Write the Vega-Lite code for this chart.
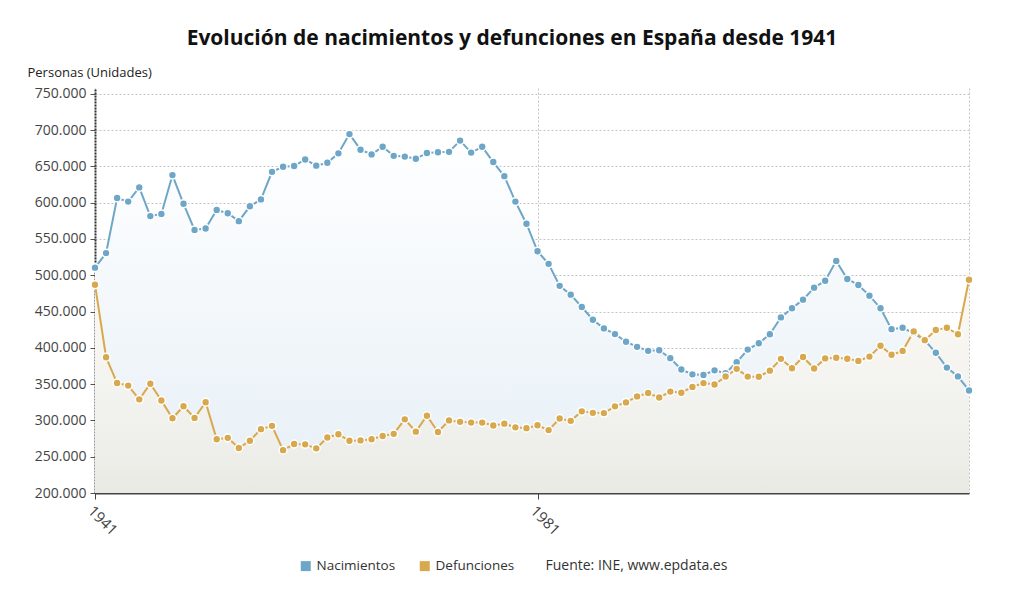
{
  "$schema": "https://vega.github.io/schema/vega-lite/v6.json",
  "description": "Evolución de nacimientos y defunciones en España desde 1941",
  "autosize": "none",
  "width": 874,
  "height": 405,
  "padding": {"left": 95, "top": 88, "right": 55, "bottom": 108},
  "title": {
    "text": "Evolución de nacimientos y defunciones en España desde 1941",
    "fontSize": 21,
    "fontWeight": "bold",
    "color": "#111111",
    "anchor": "middle",
    "dx": -20,
    "offset": 17
  },
  "data": {
    "values": [
      {"a": 1941, "s": "Nacimientos", "v": 510500},
      {"a": 1942, "s": "Nacimientos", "v": 530500},
      {"a": 1943, "s": "Nacimientos", "v": 606500},
      {"a": 1944, "s": "Nacimientos", "v": 601500},
      {"a": 1945, "s": "Nacimientos", "v": 621000},
      {"a": 1946, "s": "Nacimientos", "v": 581500},
      {"a": 1947, "s": "Nacimientos", "v": 584500},
      {"a": 1948, "s": "Nacimientos", "v": 638000},
      {"a": 1949, "s": "Nacimientos", "v": 598500},
      {"a": 1950, "s": "Nacimientos", "v": 562500},
      {"a": 1951, "s": "Nacimientos", "v": 564500},
      {"a": 1952, "s": "Nacimientos", "v": 590000},
      {"a": 1953, "s": "Nacimientos", "v": 585500},
      {"a": 1954, "s": "Nacimientos", "v": 574500},
      {"a": 1955, "s": "Nacimientos", "v": 595000},
      {"a": 1956, "s": "Nacimientos", "v": 604500},
      {"a": 1957, "s": "Nacimientos", "v": 642500},
      {"a": 1958, "s": "Nacimientos", "v": 649500},
      {"a": 1959, "s": "Nacimientos", "v": 650500},
      {"a": 1960, "s": "Nacimientos", "v": 659500},
      {"a": 1961, "s": "Nacimientos", "v": 651000},
      {"a": 1962, "s": "Nacimientos", "v": 655000},
      {"a": 1963, "s": "Nacimientos", "v": 668000},
      {"a": 1964, "s": "Nacimientos", "v": 694500},
      {"a": 1965, "s": "Nacimientos", "v": 673000},
      {"a": 1966, "s": "Nacimientos", "v": 666500},
      {"a": 1967, "s": "Nacimientos", "v": 677000},
      {"a": 1968, "s": "Nacimientos", "v": 664500},
      {"a": 1969, "s": "Nacimientos", "v": 663500},
      {"a": 1970, "s": "Nacimientos", "v": 660500},
      {"a": 1971, "s": "Nacimientos", "v": 668500},
      {"a": 1972, "s": "Nacimientos", "v": 669500},
      {"a": 1973, "s": "Nacimientos", "v": 670000},
      {"a": 1974, "s": "Nacimientos", "v": 685500},
      {"a": 1975, "s": "Nacimientos", "v": 669000},
      {"a": 1976, "s": "Nacimientos", "v": 677000},
      {"a": 1977, "s": "Nacimientos", "v": 656000},
      {"a": 1978, "s": "Nacimientos", "v": 636500},
      {"a": 1979, "s": "Nacimientos", "v": 601500},
      {"a": 1980, "s": "Nacimientos", "v": 571000},
      {"a": 1981, "s": "Nacimientos", "v": 533000},
      {"a": 1982, "s": "Nacimientos", "v": 515700},
      {"a": 1983, "s": "Nacimientos", "v": 485400},
      {"a": 1984, "s": "Nacimientos", "v": 473300},
      {"a": 1985, "s": "Nacimientos", "v": 456300},
      {"a": 1986, "s": "Nacimientos", "v": 438700},
      {"a": 1987, "s": "Nacimientos", "v": 426800},
      {"a": 1988, "s": "Nacimientos", "v": 418900},
      {"a": 1989, "s": "Nacimientos", "v": 408400},
      {"a": 1990, "s": "Nacimientos", "v": 401400},
      {"a": 1991, "s": "Nacimientos", "v": 395900},
      {"a": 1992, "s": "Nacimientos", "v": 396700},
      {"a": 1993, "s": "Nacimientos", "v": 385800},
      {"a": 1994, "s": "Nacimientos", "v": 370100},
      {"a": 1995, "s": "Nacimientos", "v": 363500},
      {"a": 1996, "s": "Nacimientos", "v": 362600},
      {"a": 1997, "s": "Nacimientos", "v": 369000},
      {"a": 1998, "s": "Nacimientos", "v": 365200},
      {"a": 1999, "s": "Nacimientos", "v": 380100},
      {"a": 2000, "s": "Nacimientos", "v": 397600},
      {"a": 2001, "s": "Nacimientos", "v": 406400},
      {"a": 2002, "s": "Nacimientos", "v": 418800},
      {"a": 2003, "s": "Nacimientos", "v": 441900},
      {"a": 2004, "s": "Nacimientos", "v": 454600},
      {"a": 2005, "s": "Nacimientos", "v": 466400},
      {"a": 2006, "s": "Nacimientos", "v": 482900},
      {"a": 2007, "s": "Nacimientos", "v": 492500},
      {"a": 2008, "s": "Nacimientos", "v": 519800},
      {"a": 2009, "s": "Nacimientos", "v": 494900},
      {"a": 2010, "s": "Nacimientos", "v": 486600},
      {"a": 2011, "s": "Nacimientos", "v": 471900},
      {"a": 2012, "s": "Nacimientos", "v": 454600},
      {"a": 2013, "s": "Nacimientos", "v": 425700},
      {"a": 2014, "s": "Nacimientos", "v": 427600},
      {"a": 2015, "s": "Nacimientos", "v": 420300},
      {"a": 2016, "s": "Nacimientos", "v": 410600},
      {"a": 2017, "s": "Nacimientos", "v": 393200},
      {"a": 2018, "s": "Nacimientos", "v": 372800},
      {"a": 2019, "s": "Nacimientos", "v": 360600},
      {"a": 2020, "s": "Nacimientos", "v": 341300},
      {"a": 1941, "s": "Defunciones", "v": 487000},
      {"a": 1942, "s": "Defunciones", "v": 387000},
      {"a": 1943, "s": "Defunciones", "v": 351500},
      {"a": 1944, "s": "Defunciones", "v": 348000},
      {"a": 1945, "s": "Defunciones", "v": 329000},
      {"a": 1946, "s": "Defunciones", "v": 350500},
      {"a": 1947, "s": "Defunciones", "v": 327500},
      {"a": 1948, "s": "Defunciones", "v": 303000},
      {"a": 1949, "s": "Defunciones", "v": 319500},
      {"a": 1950, "s": "Defunciones", "v": 303500},
      {"a": 1951, "s": "Defunciones", "v": 325000},
      {"a": 1952, "s": "Defunciones", "v": 274000},
      {"a": 1953, "s": "Defunciones", "v": 276000},
      {"a": 1954, "s": "Defunciones", "v": 262000},
      {"a": 1955, "s": "Defunciones", "v": 272000},
      {"a": 1956, "s": "Defunciones", "v": 288000},
      {"a": 1957, "s": "Defunciones", "v": 292500},
      {"a": 1958, "s": "Defunciones", "v": 259000},
      {"a": 1959, "s": "Defunciones", "v": 267500},
      {"a": 1960, "s": "Defunciones", "v": 267000},
      {"a": 1961, "s": "Defunciones", "v": 261500},
      {"a": 1962, "s": "Defunciones", "v": 276500},
      {"a": 1963, "s": "Defunciones", "v": 281000},
      {"a": 1964, "s": "Defunciones", "v": 272000},
      {"a": 1965, "s": "Defunciones", "v": 272500},
      {"a": 1966, "s": "Defunciones", "v": 274000},
      {"a": 1967, "s": "Defunciones", "v": 278500},
      {"a": 1968, "s": "Defunciones", "v": 281500},
      {"a": 1969, "s": "Defunciones", "v": 301500},
      {"a": 1970, "s": "Defunciones", "v": 284500},
      {"a": 1971, "s": "Defunciones", "v": 306500},
      {"a": 1972, "s": "Defunciones", "v": 284000},
      {"a": 1973, "s": "Defunciones", "v": 300000},
      {"a": 1974, "s": "Defunciones", "v": 298000},
      {"a": 1975, "s": "Defunciones", "v": 297000},
      {"a": 1976, "s": "Defunciones", "v": 297000},
      {"a": 1977, "s": "Defunciones", "v": 293000},
      {"a": 1978, "s": "Defunciones", "v": 295500},
      {"a": 1979, "s": "Defunciones", "v": 290500},
      {"a": 1980, "s": "Defunciones", "v": 289300},
      {"a": 1981, "s": "Defunciones", "v": 293400},
      {"a": 1982, "s": "Defunciones", "v": 286700},
      {"a": 1983, "s": "Defunciones", "v": 302600},
      {"a": 1984, "s": "Defunciones", "v": 299400},
      {"a": 1985, "s": "Defunciones", "v": 312500},
      {"a": 1986, "s": "Defunciones", "v": 310400},
      {"a": 1987, "s": "Defunciones", "v": 310100},
      {"a": 1988, "s": "Defunciones", "v": 319400},
      {"a": 1989, "s": "Defunciones", "v": 324800},
      {"a": 1990, "s": "Defunciones", "v": 333100},
      {"a": 1991, "s": "Defunciones", "v": 337700},
      {"a": 1992, "s": "Defunciones", "v": 331500},
      {"a": 1993, "s": "Defunciones", "v": 339700},
      {"a": 1994, "s": "Defunciones", "v": 338200},
      {"a": 1995, "s": "Defunciones", "v": 346200},
      {"a": 1996, "s": "Defunciones", "v": 351400},
      {"a": 1997, "s": "Defunciones", "v": 349500},
      {"a": 1998, "s": "Defunciones", "v": 360500},
      {"a": 1999, "s": "Defunciones", "v": 371100},
      {"a": 2000, "s": "Defunciones", "v": 360400},
      {"a": 2001, "s": "Defunciones", "v": 360100},
      {"a": 2002, "s": "Defunciones", "v": 368600},
      {"a": 2003, "s": "Defunciones", "v": 384800},
      {"a": 2004, "s": "Defunciones", "v": 371900},
      {"a": 2005, "s": "Defunciones", "v": 387400},
      {"a": 2006, "s": "Defunciones", "v": 371500},
      {"a": 2007, "s": "Defunciones", "v": 385400},
      {"a": 2008, "s": "Defunciones", "v": 386300},
      {"a": 2009, "s": "Defunciones", "v": 384900},
      {"a": 2010, "s": "Defunciones", "v": 382000},
      {"a": 2011, "s": "Defunciones", "v": 387900},
      {"a": 2012, "s": "Defunciones", "v": 402900},
      {"a": 2013, "s": "Defunciones", "v": 390400},
      {"a": 2014, "s": "Defunciones", "v": 395800},
      {"a": 2015, "s": "Defunciones", "v": 422600},
      {"a": 2016, "s": "Defunciones", "v": 410600},
      {"a": 2017, "s": "Defunciones", "v": 424500},
      {"a": 2018, "s": "Defunciones", "v": 427700},
      {"a": 2019, "s": "Defunciones", "v": 418700},
      {"a": 2020, "s": "Defunciones", "v": 493800}
    ]
  },
  "encoding": {
    "x": {
      "field": "a",
      "type": "quantitative",
      "scale": {"domain": [1941, 2020], "nice": false, "zero": false},
      "axis": {
        "values": [1941, 1981, 2020],
        "format": "d",
        "labelExpr": "datum.value == 2020 ? '' : datum.label",
        "labelAngle": 45,
        "labelAlign": "left",
        "labelBaseline": "top",
        "labelFontSize": 15,
        "labelColor": "#444444",
        "labelPadding": 4,
        "tickSize": 6,
        "tickColor": "#444444",
        "tickOpacity": {"condition": {"test": "datum.value == 2020", "value": 0}, "value": 1},
        "domainColor": "#444444",
        "domainWidth": 2,
        "grid": true,
        "gridDash": [2, 2],
        "gridColor": "#c4c4c4",
        "title": "Fuente: INE, www.epdata.es",
        "titleX": 450,
        "titleY": 72,
        "titleAlign": "left",
        "titleBaseline": "middle",
        "titleFontSize": 14,
        "titleFontWeight": "normal",
        "titleColor": "#333333"
      }
    },
    "y": {
      "field": "v",
      "type": "quantitative",
      "scale": {"domain": [200000, 758000], "nice": false, "zero": false},
      "axis": {
        "values": [200000, 250000, 300000, 350000, 400000, 450000, 500000, 550000, 600000, 650000, 700000, 750000],
        "format": ",.0f",
        "labelFontSize": 14,
        "labelColor": "#444444",
        "labelPadding": 4,
        "tickSize": 5,
        "tickColor": "#555555",
        "domainColor": "#333333",
        "domainDash": [2, 1],
        "domainWidth": 2,
        "grid": true,
        "gridDash": [2, 2],
        "gridColor": "#c4c4c4",
        "title": "Personas (Unidades)",
        "titleAngle": 0,
        "titleX": -68,
        "titleY": -16,
        "titleAlign": "left",
        "titleBaseline": "middle",
        "titleFontSize": 13,
        "titleFontWeight": "normal",
        "titleColor": "#222222"
      }
    }
  },
  "layer": [
    {
      "transform": [{"filter": "datum.s == 'Nacimientos'"}],
      "mark": {
        "type": "area",
        "fill": {
          "gradient": "linear",
          "x1": 0, "y1": 0, "x2": 0, "y2": 1,
          "stops": [
            {"offset": 0, "color": "#ffffff"},
            {"offset": 1, "color": "#e6eff6"}
          ]
        }
      },
      "encoding": {"y2": {"datum": 200000}}
    },
    {
      "transform": [{"filter": "datum.s == 'Defunciones'"}],
      "mark": {
        "type": "area",
        "fill": {
          "gradient": "linear",
          "x1": 0, "y1": 0, "x2": 0, "y2": 1,
          "stops": [
            {"offset": 0, "color": "#fdf9f1"},
            {"offset": 0.5, "color": "#f3f3f0"},
            {"offset": 1, "color": "#eaeae5"}
          ]
        }
      },
      "encoding": {"y2": {"datum": 200000}}
    },
    {
      "mark": {
        "type": "line",
        "strokeWidth": 2,
        "point": {"filled": true, "size": 62, "stroke": "#ffffff", "strokeWidth": 1.5, "opacity": 1}
      },
      "encoding": {
        "color": {
          "field": "s",
          "type": "nominal",
          "scale": {"domain": ["Nacimientos", "Defunciones"], "range": ["#6ea6c7", "#d8a84e"]},
          "legend": {
            "title": null,
            "orient": "none",
            "direction": "horizontal",
            "legendX": 204,
            "legendY": 471,
            "symbolType": "square",
            "symbolSize": 100,
            "symbolStrokeWidth": 0,
            "labelFontSize": 13.5,
            "labelColor": "#333333",
            "labelOffset": 4,
            "columnPadding": 22
          }
        }
      }
    }
  ],
  "config": {
    "font": "Open Sans",
    "view": {"stroke": null},
    "locale": {
      "number": {"decimal": ",", "thousands": ".", "grouping": [3], "currency": ["", " €"]}
    }
  }
}
